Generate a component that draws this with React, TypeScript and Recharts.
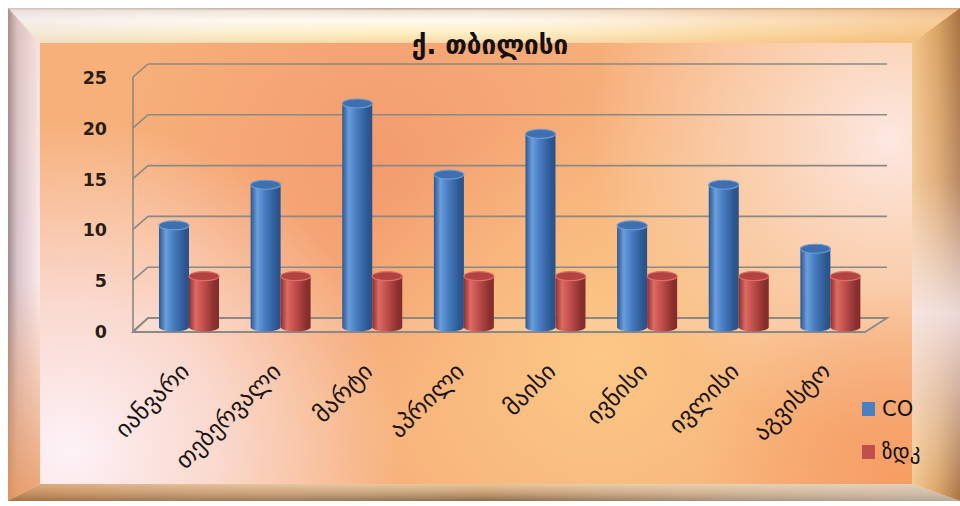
import React from 'react';
import {
  BarChart,
  Bar,
  XAxis,
  YAxis,
  CartesianGrid,
  Legend,
  ReferenceArea,
} from 'recharts';

// Monthly concentrations, Tbilisi
const CATEGORIES = ['იანვარი', 'თებერვალი', 'მარტი', 'აპრილი', 'მაისი', 'ივნისი', 'ივლისი', 'აგვისტო'];
const CO_VALUES = [10, 14, 22, 15, 19, 10, 14, 7.7];
const ZDK_VALUES = [5, 5, 5, 5, 5, 5, 5, 5];
const Y_TICKS = [0, 5, 10, 15, 20, 25];
const SERIES = [
  { key: 'co', name: 'CO', color: '#4a7fc1' },
  { key: 'zdk', name: 'ზდკ', color: '#c0504d' },
];
const TITLE = 'ქ. თბილისი';

const data = CATEGORIES.map((month, i) => ({ month, co: CO_VALUES[i], zdk: ZDK_VALUES[i] }));

const W = 960;
const H = 506;
const GEO_FONT = '"DejaVu Sans", sans-serif';
const GRID_STROKE = '#8c8883';

type Palette = { dark: string; mid: string; light: string; edge: string; top: string; topRim: string };
const PALETTES: Record<string, Palette> = {
  co: { dark: '#2c5791', mid: '#4a80c4', light: '#6a9edc', edge: '#2a5088', top: '#3f6fae', topRim: '#6b9bd6' },
  zdk: { dark: '#8a302e', mid: '#c5514e', light: '#de6a65', edge: '#842c2a', top: '#b24341', topRim: '#dd6e69' },
};

const makeCylinder = (seriesKey: string) => (props: any) => {
  const { x, y, width, height, index } = props;
  if (width == null || height == null) return null;
  const p = PALETTES[seriesKey];
  const rx = width / 2;
  const ry = 4.5;
  const cx = x + rx;
  const base = y + height;
  const gid = `cyl-${seriesKey}-${index}`;
  return (
    <g>
      <defs>
        <linearGradient id={gid} x1="0" y1="0" x2="1" y2="0">
          <stop offset="0%" stopColor={p.dark} />
          <stop offset="22%" stopColor={p.light} />
          <stop offset="45%" stopColor={p.mid} />
          <stop offset="85%" stopColor={p.dark} />
          <stop offset="100%" stopColor={p.edge} />
        </linearGradient>
      </defs>
      <path
        d={`M${x},${y} L${x},${base} A${rx},${ry} 0 0 0 ${x + width},${base} L${x + width},${y} Z`}
        fill={`url(#${gid})`}
      />
      <ellipse cx={cx} cy={y} rx={rx} ry={ry} fill={p.top} stroke={p.topRim} strokeWidth={1.2} />
    </g>
  );
};

const CoCylinder = makeCylinder('co');
const ZdkCylinder = makeCylinder('zdk');

// back-wall gridline plus the diagonal along the left wall
const renderGridLine = (p: any) => {
  const { x1, y1, x2, index } = p;
  return (
    <g key={`grid-${index}-${y1}`}>
      <line x1={x1 + 5} y1={y1 - 9} x2={x2 + 11} y2={y1 - 9} stroke={GRID_STROKE} strokeWidth={1.6} />
      <line x1={x1 - 10} y1={y1 + 4} x2={x1 + 5} y2={y1 - 9} stroke={GRID_STROKE} strokeWidth={1.6} />
    </g>
  );
};

// floor and front edge of the left wall
const WallFrame = (props: any) => {
  const { x, y, width, height } = props;
  if (x == null) return null;
  const b = y + height;
  const pts = [
    [x - 10, b + 5],
    [x + width - 11, b + 5],
    [x + width + 11, b - 9],
    [x + 5, b - 9],
  ]
    .map((pt) => pt.join(','))
    .join(' ');
  return (
    <g>
      <polygon points={pts} fill="rgba(255,240,225,0.18)" stroke={GRID_STROKE} strokeWidth={1.8} />
      <line x1={x - 10} y1={y + 4} x2={x - 10} y2={b + 5} stroke={GRID_STROKE} strokeWidth={1.6} />
    </g>
  );
};

const YTick = (props: any) => {
  const { y, payload } = props;
  return (
    <text
      x={107}
      y={y + 5}
      textAnchor="end"
      dominantBaseline="central"
      fontFamily='"DejaVu Sans", sans-serif'
      fontWeight="bold"
      fontSize={17.5}
      fill="#2a1d14"
    >
      {payload.value}
    </text>
  );
};

const XTick = (props: any) => {
  const { x, y, payload } = props;
  const ax = x + 2;
  const ay = y + 38;
  return (
    <text
      x={ax}
      y={ay}
      textAnchor="end"
      transform={`rotate(-45, ${ax}, ${ay})`}
      fontFamily={GEO_FONT}
      fontSize={24}
      fill="#1c1410"
    >
      {payload.value}
    </text>
  );
};

const LegendContent = (props: any) => {
  const { payload } = props;
  return (
    <div style={{ display: 'flex', flexDirection: 'column', gap: 17 }}>
      {(payload || []).map((item: any) => (
        <div key={item.value} style={{ display: 'flex', alignItems: 'center', height: 26 }}>
          <span style={{ width: 13, height: 14, background: item.color, display: 'inline-block', marginRight: 7 }} />
          <span style={{ fontFamily: GEO_FONT, fontSize: 21, color: '#111', whiteSpace: 'nowrap' }}>{item.value}</span>
        </div>
      ))}
    </div>
  );
};

const Frame = () => (
  <svg width={W} height={H} style={{ position: 'absolute', left: 0, top: 0 }}>
    <defs>
      <linearGradient id="topBevel" x1="0" y1="8" x2="0" y2="43" gradientUnits="userSpaceOnUse">
        <stop offset="0%" stopColor="#b89a86" />
        <stop offset="8%" stopColor="#efe2d4" />
        <stop offset="35%" stopColor="#fffaf0" />
        <stop offset="70%" stopColor="#fdefc4" />
        <stop offset="100%" stopColor="#f8d7a4" />
      </linearGradient>
      <linearGradient id="topTint" x1="8" y1="0" x2="960" y2="0" gradientUnits="userSpaceOnUse">
        <stop offset="0%" stopColor="#e8e0e8" stopOpacity={0.5} />
        <stop offset="40%" stopColor="#fff" stopOpacity={0} />
        <stop offset="75%" stopColor="#f7b870" stopOpacity={0.35} />
        <stop offset="100%" stopColor="#f0a050" stopOpacity={0.55} />
      </linearGradient>
      <linearGradient id="leftBevel" x1="8" y1="0" x2="40" y2="0" gradientUnits="userSpaceOnUse">
        <stop offset="0%" stopColor="#9c8a92" />
        <stop offset="30%" stopColor="#d9c8d2" />
        <stop offset="100%" stopColor="#fbeef2" />
      </linearGradient>
      <linearGradient id="leftTint" x1="0" y1="8" x2="0" y2="501" gradientUnits="userSpaceOnUse">
        <stop offset="0%" stopColor="#f0a060" stopOpacity={0.15} />
        <stop offset="55%" stopColor="#f2a266" stopOpacity={0.05} />
        <stop offset="100%" stopColor="#e8955a" stopOpacity={0.85} />
      </linearGradient>
      <linearGradient id="rightBevel" x1="912" y1="0" x2="960" y2="0" gradientUnits="userSpaceOnUse">
        <stop offset="0%" stopColor="#f3c488" />
        <stop offset="55%" stopColor="#d9a060" />
        <stop offset="100%" stopColor="#a87242" />
      </linearGradient>
      <linearGradient id="rightTint" x1="0" y1="8" x2="0" y2="501" gradientUnits="userSpaceOnUse">
        <stop offset="0%" stopColor="#fff" stopOpacity={0} />
        <stop offset="35%" stopColor="#f8e6ea" stopOpacity={0.2} />
        <stop offset="62%" stopColor="#f6eaf0" stopOpacity={0.85} />
        <stop offset="80%" stopColor="#f4e2e6" stopOpacity={0.5} />
        <stop offset="100%" stopColor="#fff" stopOpacity={0} />
      </linearGradient>
      <linearGradient id="bottomBevel" x1="0" y1="484" x2="0" y2="501" gradientUnits="userSpaceOnUse">
        <stop offset="0%" stopColor="#e6c59c" />
        <stop offset="55%" stopColor="#c49c72" />
        <stop offset="100%" stopColor="#8e6c4c" />
      </linearGradient>
      <linearGradient id="bottomTint" x1="8" y1="0" x2="960" y2="0" gradientUnits="userSpaceOnUse">
        <stop offset="0%" stopColor="#c8783c" stopOpacity={0.4} />
        <stop offset="50%" stopColor="#fff" stopOpacity={0} />
        <stop offset="100%" stopColor="#d8d4d0" stopOpacity={0.6} />
      </linearGradient>
      <radialGradient id="glowPink" cx="70" cy="450" r="330" gradientUnits="userSpaceOnUse">
        <stop offset="0%" stopColor="#fdf2f8" stopOpacity={1} />
        <stop offset="45%" stopColor="#fbe6ea" stopOpacity={0.75} />
        <stop offset="100%" stopColor="#fbe6ea" stopOpacity={0} />
      </radialGradient>
      <radialGradient id="glowRight" cx="890" cy="140" r="300" gradientUnits="userSpaceOnUse">
        <stop offset="0%" stopColor="#fde8e2" stopOpacity={1} />
        <stop offset="55%" stopColor="#fbdcc4" stopOpacity={0.6} />
        <stop offset="100%" stopColor="#fbdcc4" stopOpacity={0} />
      </radialGradient>
      <radialGradient id="glowYellow" cx="600" cy="360" r="260" gradientUnits="userSpaceOnUse">
        <stop offset="0%" stopColor="#fcca88" stopOpacity={0.9} />
        <stop offset="100%" stopColor="#fcca88" stopOpacity={0} />
      </radialGradient>
      <radialGradient id="glowSalmon" cx="380" cy="160" r="260" gradientUnits="userSpaceOnUse">
        <stop offset="0%" stopColor="#f39a6e" stopOpacity={0.9} />
        <stop offset="100%" stopColor="#f39a6e" stopOpacity={0} />
      </radialGradient>
      <radialGradient id="glowCorner" cx="900" cy="480" r="200" gradientUnits="userSpaceOnUse">
        <stop offset="0%" stopColor="#f69c62" stopOpacity={0.9} />
        <stop offset="100%" stopColor="#f69c62" stopOpacity={0} />
      </radialGradient>
    </defs>
    <rect x={0} y={0} width={W} height={H} fill="#ffffff" />
    <polygon points="8,8 960,8 912,43 40,43" fill="url(#topBevel)" />
    <polygon points="8,8 960,8 912,43 40,43" fill="url(#topTint)" />
    <polygon points="8,8 40,43 40,484 8,501" fill="url(#leftBevel)" />
    <polygon points="8,8 40,43 40,484 8,501" fill="url(#leftTint)" />
    <polygon points="960,8 912,43 912,484 960,501" fill="url(#rightBevel)" />
    <polygon points="960,8 912,43 912,484 960,501" fill="url(#rightTint)" />
    <polygon points="8,501 40,484 912,484 960,501" fill="url(#bottomBevel)" />
    <polygon points="8,501 40,484 912,484 960,501" fill="url(#bottomTint)" />
    <rect x={40} y={43} width={872} height={441} fill="#f7b07a" />
    <rect x={40} y={43} width={872} height={441} fill="url(#glowSalmon)" />
    <rect x={40} y={43} width={872} height={441} fill="url(#glowYellow)" />
    <rect x={40} y={43} width={872} height={441} fill="url(#glowRight)" />
    <rect x={40} y={43} width={872} height={441} fill="url(#glowCorner)" />
    <rect x={40} y={43} width={872} height={441} fill="url(#glowPink)" />
    <text
      x={490}
      y={45}
      textAnchor="middle"
      dominantBaseline="central"
      fontFamily={GEO_FONT}
      fontWeight="bold"
      fontSize={26}
      fill="#141010"
    >
      {TITLE}
    </text>
  </svg>
);

export default function App() {
  return (
    <div style={{ position: 'absolute', left: 0, top: 0, width: W, height: H, overflow: 'hidden' }}>
      <Frame />
      <div style={{ position: 'absolute', left: 0, top: 0 }}>
        <BarChart
          width={W}
          height={H}
          data={data}
          margin={{ top: 73, right: 84, bottom: 119, left: 0 }}
          barGap={0}
        >
          <CartesianGrid horizontal={renderGridLine} vertical={false} />
          <ReferenceArea y1={0} y2={25} ifOverflow="visible" shape={WallFrame} />
          <XAxis
            dataKey="month"
            axisLine={false}
            tickLine={false}
            interval={0}
            height={60}
            tick={<XTick />}
          />
          <YAxis
            domain={[0, 25]}
            ticks={Y_TICKS}
            interval={0}
            axisLine={false}
            tickLine={false}
            width={143}
            tick={<YTick />}
          />
          <Bar dataKey="co" name={SERIES[0].name} fill={SERIES[0].color} barSize={30} shape={CoCylinder} isAnimationActive={false} />
          <Bar dataKey="zdk" name={SERIES[1].name} fill={SERIES[1].color} barSize={30} shape={ZdkCylinder} isAnimationActive={false} />
          <Legend
            layout="vertical"
            align="center"
            verticalAlign="middle"
            content={<LegendContent />}
            wrapperStyle={{ position: 'absolute', left: 862, top: 396, width: 100 }}
          />
        </BarChart>
      </div>
    </div>
  );
}
